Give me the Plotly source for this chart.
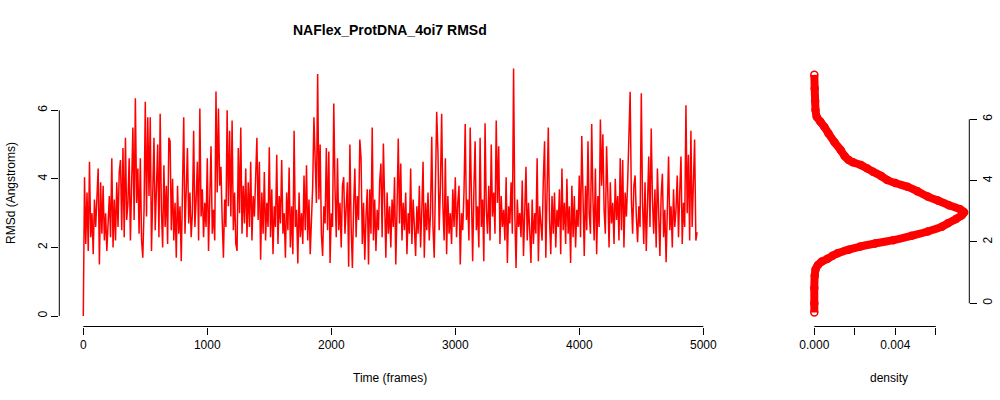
import plotly.graph_objects as go

title_text = "NAFlex_ProtDNA_4oi7 RMSd"
x_title = "Time (frames)"
y_title = "RMSd (Angstroms)"
dens_title = "density"

rmsd = [
    0.0, 4.05, 2.1, 3.6, 1.9, 4.5, 2.3, 3.0, 1.8, 3.4,
    2.6, 3.3, 4.3, 1.5, 3.9, 2.4, 3.8, 2.2, 3.0, 1.9,
    2.7, 3.5, 2.3, 4.6, 2.0, 3.4, 2.2, 3.9, 2.6, 4.2,
    4.55, 2.5, 4.9, 2.3, 5.2, 2.8, 3.3, 4.6, 2.2, 3.6,
    5.5, 2.8, 6.35, 3.3, 4.3, 2.4, 4.6, 2.2, 1.7, 3.1,
    6.25, 2.9, 5.8, 3.5, 5.8, 1.9, 3.4, 5.2, 2.5, 3.9,
    5.0, 2.3, 5.9, 3.1, 2.0, 4.4, 2.6, 3.8, 2.1, 5.2,
    5.1, 2.5, 4.0, 2.2, 3.3, 1.7, 3.8, 2.4, 3.2, 1.6,
    3.5, 5.8, 2.4, 4.1, 4.9, 2.7, 3.6, 2.3, 3.0, 5.4,
    2.6, 3.4, 4.5, 2.2, 6.05, 2.9, 3.7, 2.3, 3.3, 2.6,
    4.6, 1.9, 3.5, 4.95, 2.4, 3.1, 2.2, 6.55, 3.6, 6.05,
    3.8, 4.35, 2.8, 1.7, 3.4, 2.6, 6.0, 3.2, 5.4, 2.9,
    5.7, 2.5, 3.6, 2.1, 1.9, 4.9, 3.0, 5.5, 2.4, 3.8,
    2.7, 4.3, 2.3, 3.9, 2.6, 4.5, 2.2, 3.5, 2.9, 4.1,
    5.2, 2.8, 4.5, 1.64, 3.6, 2.4, 4.2, 2.2, 3.3, 2.6,
    4.92, 2.3, 3.7, 1.8, 3.2, 2.6, 4.7, 2.1, 3.5, 2.7,
    4.55, 2.4, 3.0, 1.7, 3.6, 2.5, 4.33, 2.0, 3.2, 1.8,
    5.4, 2.6, 3.1, 1.53, 3.6, 2.3, 3.0, 2.1, 4.1, 2.5,
    4.4, 2.2, 3.4, 1.8, 2.9, 3.8, 5.8, 4.1, 3.3, 7.06,
    3.4, 5.0, 2.4, 1.75, 3.2, 2.7, 4.9, 2.5, 4.8, 1.55,
    3.0, 2.6, 6.2, 3.7, 2.3, 4.6, 2.5, 3.3, 2.0, 3.8,
    4.05, 2.4, 3.0, 3.9, 1.44, 5.0, 2.6, 1.4, 3.2, 4.3,
    2.3, 3.5, 2.8, 5.15, 4.6, 2.1, 3.3, 1.64, 2.9, 3.7,
    1.5, 3.7, 2.4, 5.5, 2.2, 3.4, 1.9, 3.1, 2.5, 3.9,
    4.45, 2.3, 5.03, 2.8, 1.7, 3.6, 2.4, 3.2, 2.0, 3.4,
    2.6, 4.05, 1.5, 3.1, 5.18, 2.7, 4.45, 2.2, 3.3, 2.5,
    3.6, 1.8, 3.0, 2.4, 4.3, 2.1, 3.4, 2.6, 1.75, 3.2,
    2.4, 3.8, 2.0, 3.1, 4.5, 1.7, 3.3, 2.5, 3.6, 2.2,
    3.0, 5.23, 2.6, 1.7, 3.4, 5.96, 4.8, 2.5, 3.8, 5.9,
    3.2, 2.2, 4.6, 1.8, 3.5, 2.4, 3.0, 2.1, 3.7, 2.6,
    4.05, 2.3, 3.3, 3.8, 1.5, 3.0, 2.5, 3.6, 5.6, 2.8,
    3.4, 2.2, 5.5, 3.0, 1.6, 3.7, 5.1, 2.5, 3.2, 2.0,
    5.2, 2.6, 3.4, 1.6, 5.62, 3.1, 2.4, 3.8, 2.2, 5.0,
    2.9, 3.6, 2.4, 5.7, 3.3, 4.95, 2.1, 3.5, 2.6, 3.1,
    2.2, 4.05, 1.55, 3.2, 2.7, 3.9, 2.4, 7.22, 3.0, 1.4,
    3.4, 2.6, 3.0, 2.3, 3.95, 1.75, 3.1, 4.35, 2.2, 3.3,
    2.5, 1.55, 3.4, 2.1, 3.0, 2.4, 4.6, 1.6, 3.2, 2.7,
    2.2, 4.0, 5.1, 1.7, 3.3, 5.5, 2.8, 1.8, 3.5, 2.4,
    3.6, 2.0, 3.1, 2.6, 3.7, 1.8, 4.3, 2.5, 3.3, 2.1,
    4.0, 2.4, 3.2, 1.55, 3.8, 2.3, 3.5, 2.0, 3.1, 2.6,
    4.1, 2.3, 5.25, 3.2, 1.75, 3.8, 2.5, 5.1, 3.0, 2.4,
    5.6, 3.4, 2.2, 4.3, 1.8, 3.5, 2.6, 5.73, 3.8, 5.3,
    3.1, 2.4, 4.95, 3.6, 2.0, 3.9, 2.7, 3.3, 2.1, 4.0,
    2.8, 3.5, 2.2, 4.6, 2.5, 4.55, 2.0, 3.6, 2.9, 3.9,
    5.75, 6.54, 3.4, 2.4, 3.8, 4.1, 2.9, 2.15, 3.2, 2.6,
    6.5, 3.3, 2.1, 3.9, 1.9, 3.0, 4.65, 2.6, 5.47, 3.4,
    2.4, 3.7, 2.0, 4.3, 2.8, 1.75, 3.5, 4.15, 2.3, 3.1,
    1.57, 3.4, 4.65, 2.5, 3.2, 2.0, 3.7, 2.6, 3.1, 4.1,
    2.3, 3.6, 4.65, 2.1, 3.3, 2.6, 6.15, 3.0, 4.7, 2.2,
    5.4, 2.6, 3.8, 5.15, 2.2, 2.45,
]
frames = list(range(0, 10 * len(rmsd), 10))

# Density curve
density_y = [-0.30, 0.0, 0.5, 0.9, 1.1, 1.25, 1.36, 1.45, 1.55, 1.63, 1.75, 1.85,
             1.95, 2.06, 2.2, 2.34, 2.5, 2.61, 2.75, 2.87, 2.97, 3.07, 3.2, 3.35,
             3.48, 3.65, 3.8, 3.92, 4.02, 4.15, 4.29, 4.4, 4.51, 4.6, 4.67, 4.8,
             5.0, 5.25, 5.54, 5.75, 5.92, 6.08, 6.3, 6.6, 7.0, 7.45]
density_x = [0.0, 0.0, 0.0, 0.00002, 0.00006, 0.00018, 0.00037, 0.00065, 0.0009,
             0.00115, 0.0017, 0.00227, 0.0030, 0.0039, 0.0048, 0.0056, 0.0063,
             0.0066, 0.0070, 0.00728, 0.0074, 0.0072, 0.00665, 0.0061, 0.0056,
             0.0051, 0.0046, 0.0040, 0.0036, 0.0033, 0.0029, 0.0026, 0.0023,
             0.0019, 0.0017, 0.0015, 0.0013, 0.0010, 0.0007, 0.0005, 0.0003,
             0.00012, 0.00006, 0.00004, 0.00002, 0.0]

main_xticks = [0, 1000, 2000, 3000, 4000, 5000]
main_yticks = [0, 2, 4, 6]
dens_xticks = [0, 0.002, 0.004, 0.006]
dens_xticktext = ["0.000", "", "0.004", ""]
dens_yticks = [0, 2, 4, 6]

RED = "#FF0000"
FONT = "Liberation Sans, Arial, Helvetica, sans-serif"

fig = go.Figure()
fig.add_trace(go.Scatter(x=frames, y=rmsd, mode="lines",
                         line=dict(color=RED, width=1.5),
                         xaxis="x", yaxis="y", showlegend=False))
fig.add_trace(go.Scatter(x=density_x, y=density_y, mode="lines",
                         line=dict(color=RED, width=8, shape="spline", smoothing=0.5),
                         xaxis="x2", yaxis="y2", showlegend=False))
fig.add_trace(go.Scatter(x=density_x, y=density_y, mode="markers",
                         marker=dict(symbol="circle-open", size=7, color=RED,
                                     line=dict(width=1.5, color=RED)),
                         xaxis="x2", yaxis="y2", showlegend=False))

ybot, ytop = 0.18375, 0.85175
axis_common = dict(showgrid=False, zeroline=False, showline=False, automargin=False,
                   ticks="outside", ticklen=7, tickwidth=1, tickcolor="black",
                   tickfont=dict(family=FONT, size=12, color="black"))

fig.update_layout(
    template="none",
    width=1000, height=400,
    margin=dict(l=0, r=0, t=0, b=0, pad=0),
    paper_bgcolor="white", plot_bgcolor="white",
    font=dict(family=FONT, size=12, color="black"),
    xaxis=dict(domain=[0.0593, 0.7217], range=[-193.5, 5148.4],
               tickvals=main_xticks, anchor="y", **axis_common),
    yaxis=dict(domain=[ybot, ytop], range=[-0.306, 7.488],
               tickvals=main_yticks, tickangle=-90, anchor="x", **axis_common),
    xaxis2=dict(domain=[0.8087, 0.9693], range=[-0.000277, 0.007654],
                tickvals=dens_xticks, ticktext=dens_xticktext, anchor="y2",
                **axis_common),
    yaxis2=dict(domain=[ybot, ytop], range=[-0.756, 7.956],
                tickvals=dens_yticks, tickangle=-90, side="right", anchor="x2",
                **axis_common),
)

# R-style axis lines spanning first to last tick
line_style = dict(color="black", width=1)
fig.add_shape(type="line", xref="x", yref="paper", x0=main_xticks[0], x1=main_xticks[-1],
              y0=ybot, y1=ybot, line=line_style)
fig.add_shape(type="line", xref="paper", yref="y", x0=0.0593, x1=0.0593,
              y0=main_yticks[0], y1=main_yticks[-1], line=line_style)
fig.add_shape(type="line", xref="x2", yref="paper", x0=dens_xticks[0], x1=dens_xticks[-1],
              y0=ybot, y1=ybot, line=line_style)
fig.add_shape(type="line", xref="paper", yref="y2", x0=0.9693, x1=0.9693,
              y0=dens_yticks[0], y1=dens_yticks[-1], line=line_style)

ann_font = dict(family=FONT, size=12, color="black")
fig.add_annotation(text="<b>" + title_text + "</b>", xref="paper", yref="paper",
                   x=0.390, y=(400 - 30) / 400, xanchor="center", yanchor="middle",
                   showarrow=False, font=dict(family=FONT, size=14, color="black"))
fig.add_annotation(text=x_title, xref="paper", yref="paper",
                   x=0.390, y=(400 - 378) / 400, xanchor="center", yanchor="middle",
                   showarrow=False, font=ann_font)
fig.add_annotation(text=dens_title, xref="paper", yref="paper",
                   x=0.889, y=(400 - 378) / 400, xanchor="center", yanchor="middle",
                   showarrow=False, font=ann_font)
fig.add_annotation(text=y_title, xref="paper", yref="paper",
                   x=0.011, y=(400 - 193) / 400, xanchor="center", yanchor="middle",
                   showarrow=False, textangle=-90, font=ann_font)

fig.write_html("out.html", config={"displayModeBar": False},
               post_script="document.body.style.margin='0';")
